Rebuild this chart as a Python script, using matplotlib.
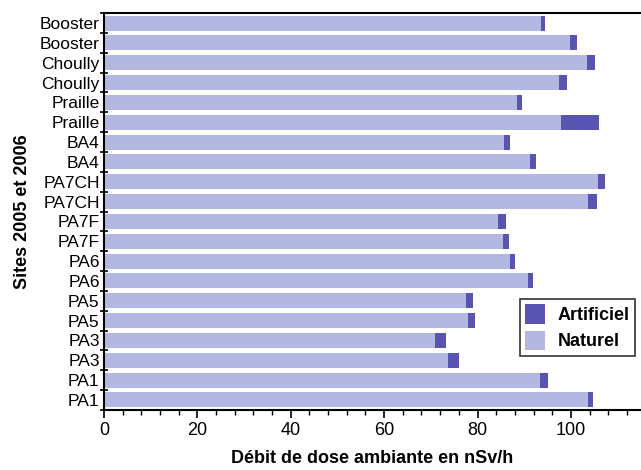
import numpy as np
import matplotlib
matplotlib.use("Agg")
import matplotlib.pyplot as plt
from matplotlib.patches import Patch

plt.rcParams['font.family'] = ['Liberation Sans', 'DejaVu Sans']

# Sites, listed from top to bottom
sites = ['Booster', 'Booster', 'Choully', 'Choully', 'Praille', 'Praille',
         'BA4', 'BA4', 'PA7CH', 'PA7CH', 'PA7F', 'PA7F', 'PA6', 'PA6',
         'PA5', 'PA5', 'PA3', 'PA3', 'PA1', 'PA1']

# Natural and artificial ambient dose rate (nSv/h)
naturel = [93.5, 99.8, 103.4, 97.5, 88.4, 97.8, 85.7, 91.2, 105.7, 103.7,
           84.4, 85.4, 86.9, 90.9, 77.5, 77.9, 70.9, 73.7, 93.3, 103.7]
artificiel = [1.0, 1.5, 1.7, 1.6, 1.2, 8.2, 1.3, 1.4, 1.6, 1.9,
              1.6, 1.3, 1.2, 1.0, 1.6, 1.6, 2.4, 2.3, 1.7, 1.1]

light = '#b3b8e2'
dark = '#5854b0'

fig = plt.figure(figsize=(6.41, 4.70), dpi=100)
ax = fig.add_axes([0.162, 0.128, 0.838, 0.844])

y = np.arange(len(sites))
ax.barh(y, naturel, height=0.76, color=light)
ax.barh(y, artificiel, left=naturel, height=0.76, color=dark)

ax.set_ylim(len(sites) - 0.5, -0.5)
ax.set_xlim(0, 115)

# y ticks at bar boundaries, labels at bar centres
ax.set_yticks(np.arange(len(sites) + 1) - 0.5)
ax.set_yticklabels([])
ax.set_yticks(y, minor=True)
ax.set_yticklabels(sites, minor=True, fontsize=12.5)
ax.tick_params(axis='y', which='major', direction='inout', length=6, width=1.2)
ax.tick_params(axis='y', which='minor', length=0, pad=3)

ax.set_xticks(np.arange(0, 101, 20))
ax.set_xticks(np.arange(0, 116, 4), minor=True)
ax.tick_params(axis='x', which='major', direction='out', length=6, width=1.2,
               labelsize=13, pad=3)
ax.tick_params(axis='x', which='minor', direction='out', length=3.5, width=1)

for s in ['left', 'bottom', 'top']:
    ax.spines[s].set_linewidth(1.5)
ax.spines['right'].set_visible(False)

ax.set_xlabel('Débit de dose ambiante en nSv/h', fontsize=13, fontweight='bold', labelpad=8)
ax.set_ylabel('Sites 2005 et 2006', fontsize=13, fontweight='bold', labelpad=6)

handles = [Patch(facecolor=dark, label='Artificiel'),
           Patch(facecolor=light, label='Naturel')]
leg = fig.legend(handles=handles, loc='upper left', bbox_to_anchor=(0.811, 0.364),
                 frameon=True, fancybox=False, edgecolor='black',
                 prop={'weight': 'bold', 'size': 13}, handlelength=1.1,
                 handleheight=1.3, borderpad=0.3, labelspacing=0.35,
                 handletextpad=0.7, borderaxespad=0)
leg.get_frame().set_linewidth(1.2)

fig.savefig('out.png', dpi=100)
